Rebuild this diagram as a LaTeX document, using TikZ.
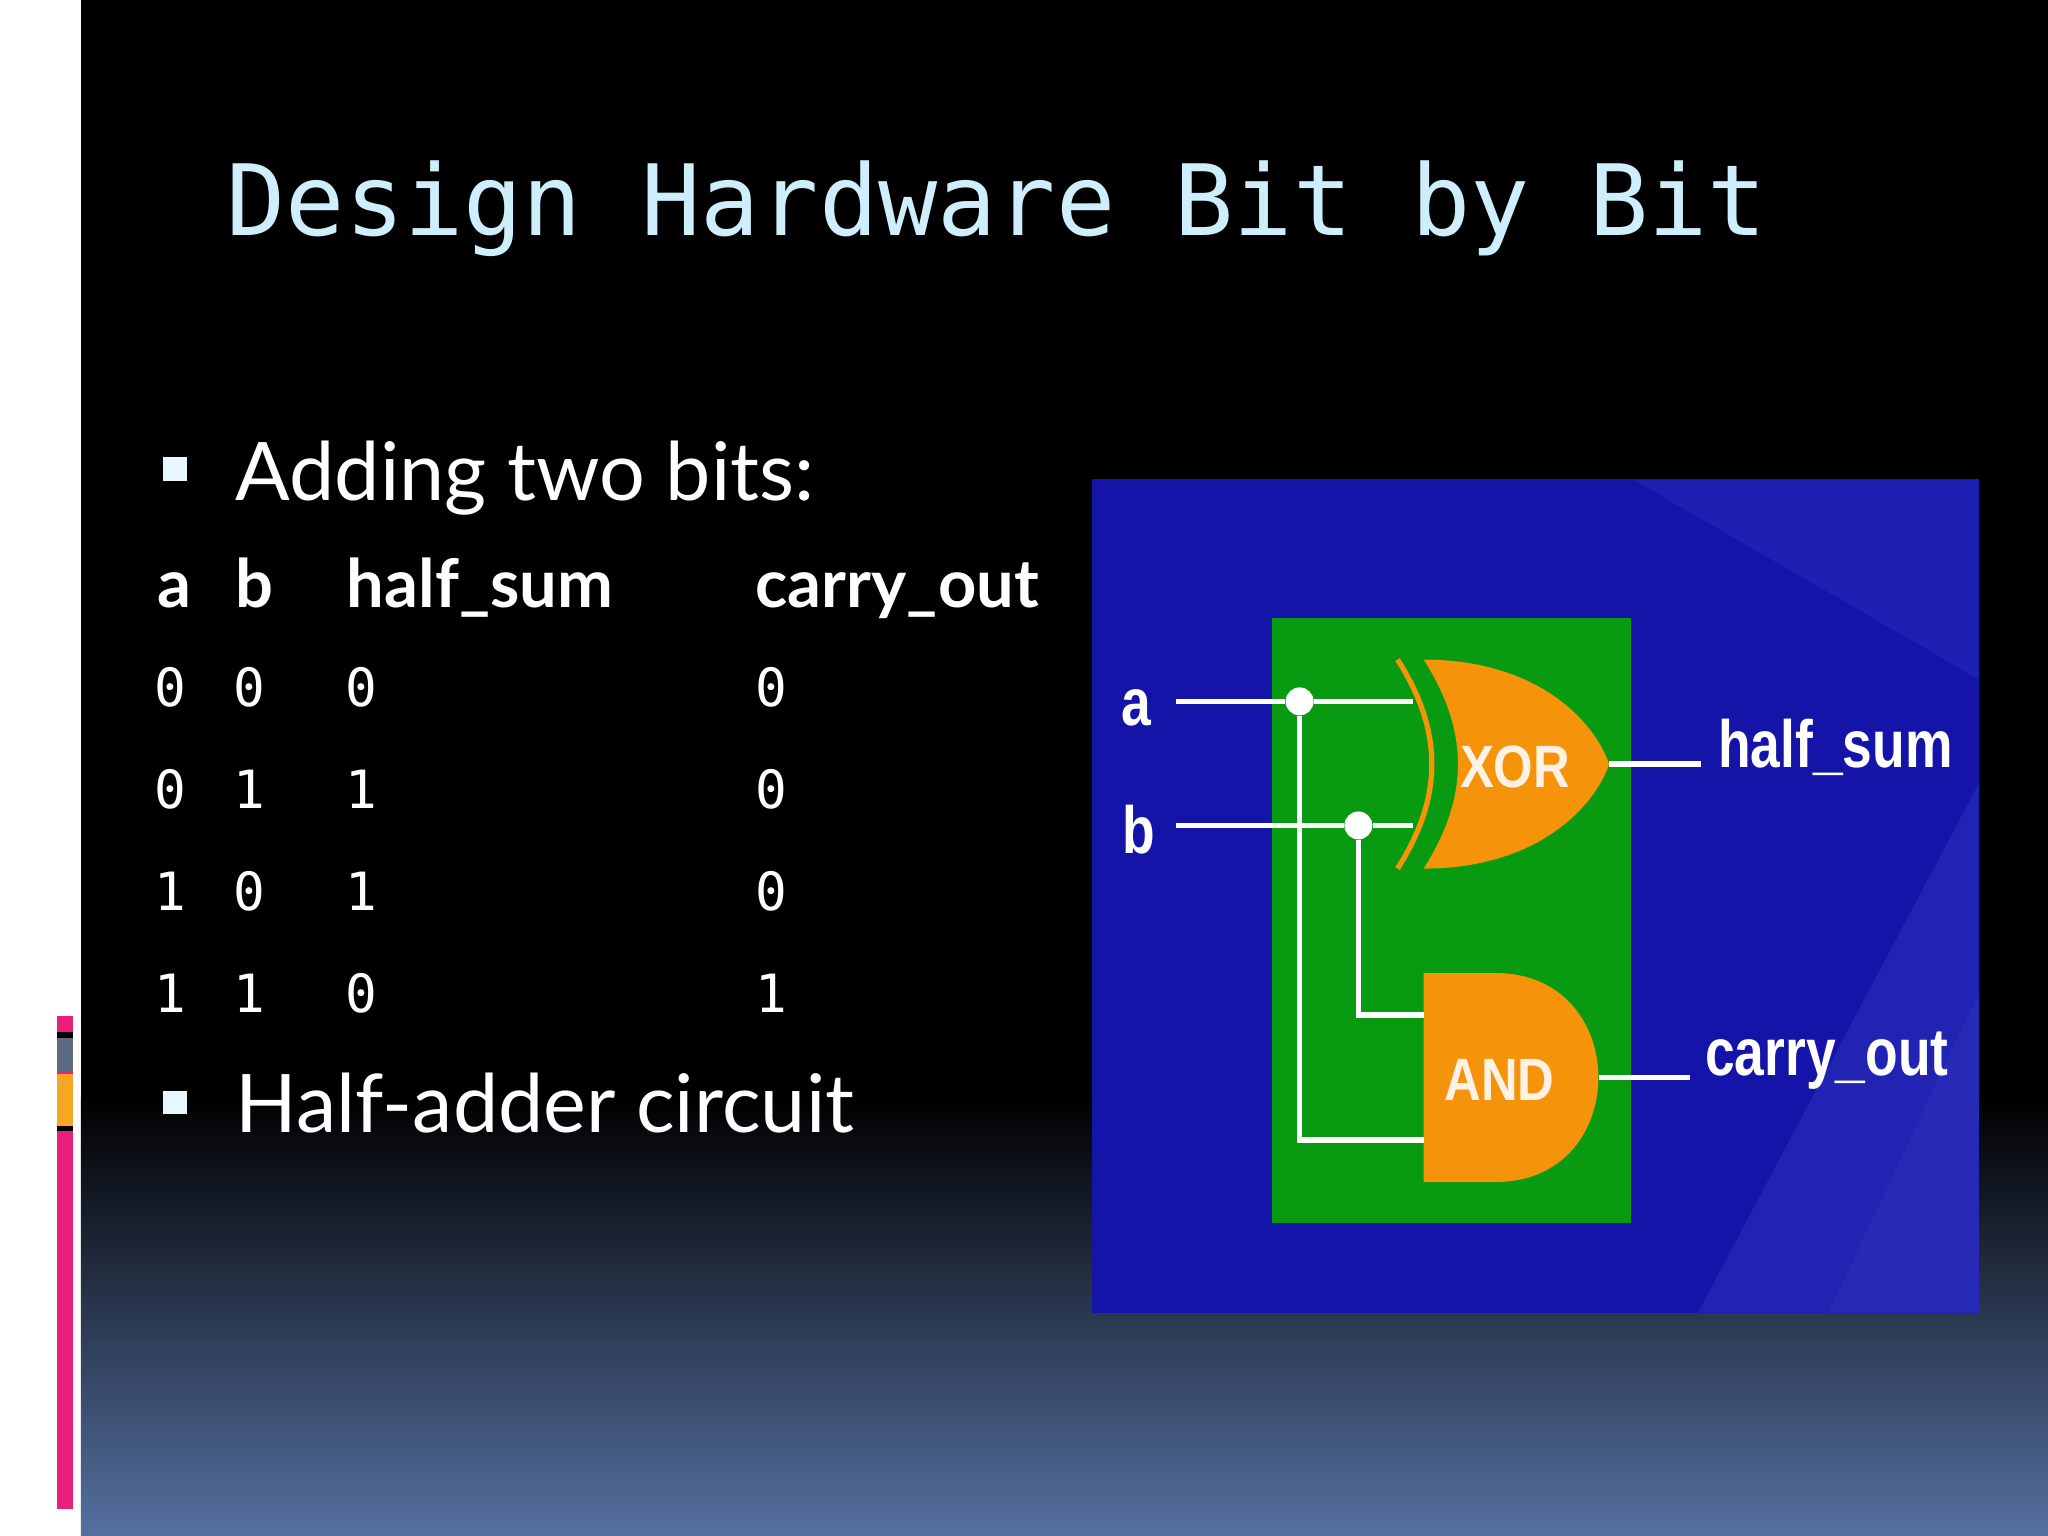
\documentclass[tikz,border=0pt]{standalone}
\usepackage{fontspec}
\setmainfont{Lato}
\newfontfamily\monof{DejaVu Sans Mono}
\newfontfamily\gatef{Liberation Sans}
\definecolor{titlec}{HTML}{CDEEFA}
\definecolor{botc}{HTML}{5570A0}
\definecolor{pinkc}{HTML}{E8207A}
\definecolor{grayc}{HTML}{5A6A80}
\definecolor{orc}{HTML}{F5A623}
\definecolor{bluebg}{HTML}{1414A8}
\definecolor{bluelt}{HTML}{3A44C8}
\definecolor{greenc}{HTML}{089A10}
\definecolor{gatec}{HTML}{F5940A}
\begin{document}
\begin{tikzpicture}[x=0.01306cm,y=-0.01306cm,
  bodyt/.style={anchor=base west,text=white,inner sep=0pt,font=\fontsize{23}{26}\selectfont},
  headt/.style={anchor=base west,text=white,inner sep=0pt,font=\fontsize{19}{22}\selectfont\bfseries},
  digt/.style={anchor=base west,text=white,inner sep=0pt,font=\monof\fontsize{15}{18}\selectfont},
  wire/.style={white,line width=1.6pt},
  dotn/.style={circle,fill=white,inner sep=0pt,minimum size=0.28cm},
  glab/.style={text=white,inner sep=0pt,font=\gatef\bfseries\fontsize{19}{22}\selectfont,xscale=0.8},
  gatet/.style={text=white!90!orange,inner sep=0pt,font=\gatef\bfseries\fontsize{17}{20}\selectfont,xscale=0.85}]
\useasboundingbox (0,0) rectangle (1568,1176);
\fill[white] (0,0) rectangle (62,1176);
\fill[black] (62,0) rectangle (1568,1176);
\shade[top color=black,bottom color=botc] (62,840) rectangle (1568,1176);
% barcode icon
\foreach \x/\w in {35/2,39/3,44/2,48/4,54/2,58/4}{\fill[white] (\x,115) rectangle (\x+\w,180);}
% color bars
\fill[pinkc] (44,778) rectangle (56,1155);
\fill[black] (44,790) rectangle (56,795);
\fill[grayc] (44,795) rectangle (56,820);
\fill[orc] (44,822) rectangle (56,862);
\fill[black] (44,862) rectangle (56,866);
% title
\node[anchor=base west,inner sep=0pt,text=titlec,font=\monof\fontsize{28}{32}\selectfont] (title) at (173,180) {Design Hardware Bit by Bit};
% bullets
\fill[white!90!cyan] (125,350) rectangle (143,368);
\node[bodyt] (b1) at (180,383) {Adding two bits:};
\fill[white!90!cyan] (125,835) rectangle (143,853);
\node[bodyt] (b2) at (180,867) {Half-adder circuit};
% table
\node[headt] (ha) at (120,465) {a};
\node[headt] (hb) at (180,465) {b};
\node[headt] (hs) at (265,465) {half\_sum};
\node[headt] (hc) at (578,465) {carry\_out};
\foreach \y/\a/\b/\s/\c [count=\i] in {541/0/0/0/0,619/0/1/1/0,697/1/0/1/0,775/1/1/0/1}{
  \node[digt] (ra\i) at (118,\y) {\a};
  \node[digt] (rb\i) at (178,\y) {\b};
  \node[digt] (rs\i) at (264,\y) {\s};
  \node[digt] (rc\i) at (578,\y) {\c};
}
% circuit picture
\fill[bluebg] (836,367) rectangle (1515,1005);
\begin{scope}
\clip (836,367) rectangle (1515,1005);
\fill[bluelt,opacity=0.35] (1515,600) -- (1300,1005) -- (1515,1005) -- cycle;
\fill[bluelt,opacity=0.25] (1515,367) -- (1250,367) -- (1515,520) -- cycle;
\fill[bluelt,opacity=0.2] (1400,1005) -- (1515,760) -- (1515,1005) -- cycle;
\end{scope}
\fill[greenc] (974,473) rectangle (1249,936);
% gates
\fill[gatec] (1090,505) .. controls (1180,505) and (1222,555) .. (1232,585)
  .. controls (1222,615) and (1180,665) .. (1090,665)
  .. controls (1125,610) and (1125,560) .. cycle;
\draw[gatec,line width=1.5pt] (1070,505) .. controls (1105,560) and (1105,610) .. (1070,665);
\fill[gatec] (1090,745) -- (1145,745) .. controls (1250,745) and (1250,905) .. (1145,905) -- (1090,905) -- cycle;
\node[gatet] (xor) at (1160,587) {XOR};
\node[gatet] (and) at (1148,827) {AND};
% wires
\coordinate (ain) at (900,537);
\coordinate (bin) at (900,632);
\node[dotn] (da) at (995,537) {};
\node[dotn] (db) at (1040,632) {};
\coordinate (xa) at (1082,537);
\coordinate (xb) at (1082,632);
\coordinate (aa) at (1090,873);
\coordinate (ab) at (1090,777);
\coordinate (xo) at (1232,585);
\coordinate (ao) at (1224,825);
\coordinate (so) at (1302,585);
\coordinate (co) at (1294,825);
\draw[wire] (ain) -- (da) -- (xa);
\draw[wire] (bin) -- (db) -- (xb);
\draw[wire] (da) |- (aa);
\draw[wire] (db) |- (ab);
\draw[wire] (xo) -- (so);
\draw[wire] (ao) -- (co);
\node[glab] (la) at (870,542) {a};
\node[glab] (lb) at (872,635) {b};
\node[glab,anchor=west] (ls) at (1315,572) {half\_sum};
\node[glab,anchor=west] (lc) at (1305,812) {carry\_out};
\end{tikzpicture}
\end{document}
